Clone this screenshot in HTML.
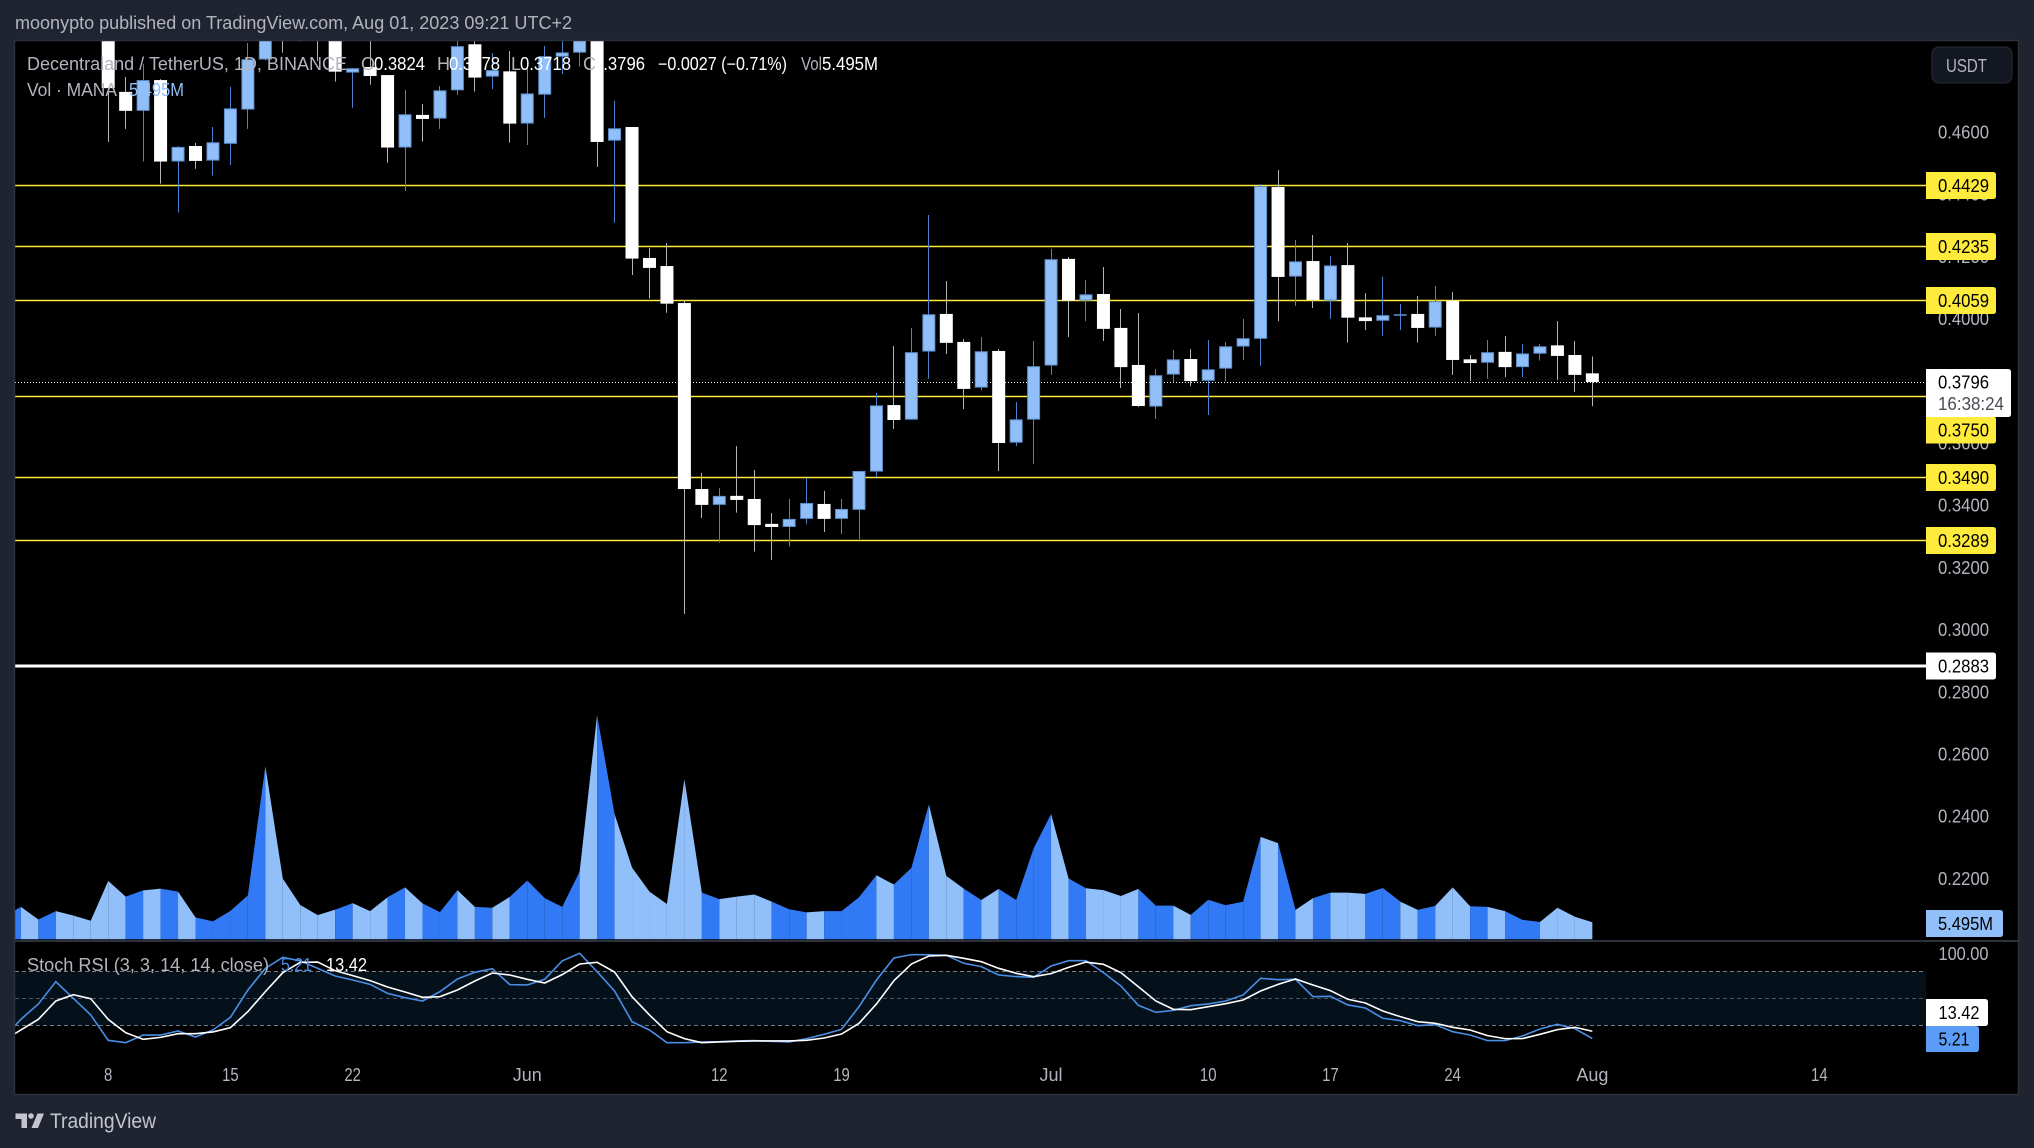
<!DOCTYPE html>
<html lang="en">
<head>
<meta charset="utf-8">
<title>MANA/USDT chart</title>
<style>
html,body{margin:0;padding:0;background:#1f2430;width:2034px;height:1148px;overflow:hidden}
svg{display:block}
text{font-family:"Liberation Sans",sans-serif;font-size:18px;fill:#b2b5be}
</style>
</head>
<body>
<svg id="chart" xmlns="http://www.w3.org/2000/svg" width="2034" height="1148" viewBox="0 0 2034 1148">
  <defs>
    <clipPath id="plot-clip"><rect x="15" y="41" width="1911" height="898.5"/></clipPath>
    <clipPath id="stoch-clip"><rect x="15" y="942" width="1911" height="152"/></clipPath>
  </defs>
  <rect x="0" y="0" width="2034" height="1148" fill="#1f2430"/>
  <rect x="15" y="41" width="2003.5" height="1053" fill="#000"/>
  <g id="levels-layer"></g>
  <g id="candles-layer" clip-path="url(#plot-clip)"></g>
  <g id="volume-layer" clip-path="url(#plot-clip)"></g>
  <rect id="stoch-band" x="15" width="1911" fill="#04111b"/>
  <g id="stoch-guides"></g>
  <g id="stoch-layer" clip-path="url(#stoch-clip)"></g>
  <g id="price-axis"></g>
  <g id="time-axis"></g>
  <g id="tags-layer"></g>

  <path d="M14.5 40.5H2018.5V1094.5H14.5Z" fill="none" stroke="#2d313c" stroke-width="1.5"/>
  <line x1="15" y1="941" x2="2018" y2="941" stroke="#2d313c" stroke-width="2"/>

  <text x="15" y="29" textLength="557" lengthAdjust="spacingAndGlyphs">moonypto published on TradingView.com, Aug 01, 2023 09:21 UTC+2</text>

  <g>
    <text x="27" y="70" textLength="320" lengthAdjust="spacingAndGlyphs">Decentraland / TetherUS, 1D, BINANCE</text>
    <text x="361" y="70">O</text>
    <text x="374" y="70" textLength="51" lengthAdjust="spacingAndGlyphs" style="fill:#fff">0.3824</text>
    <text x="437" y="70">H</text>
    <text x="449" y="70" textLength="51" lengthAdjust="spacingAndGlyphs" style="fill:#fff">0.3878</text>
    <text x="511" y="70">L</text>
    <text x="520" y="70" textLength="51" lengthAdjust="spacingAndGlyphs" style="fill:#fff">0.3718</text>
    <text x="583" y="70">C</text>
    <text x="594" y="70" textLength="51" lengthAdjust="spacingAndGlyphs" style="fill:#fff">0.3796</text>
    <text x="658" y="70" textLength="129" lengthAdjust="spacingAndGlyphs" style="fill:#fff">−0.0027 (−0.71%)</text>
    <text x="801" y="70" textLength="21" lengthAdjust="spacingAndGlyphs">Vol</text>
    <text x="822" y="70" textLength="56" lengthAdjust="spacingAndGlyphs" style="fill:#fff">5.495M</text>
  </g>
  <g>
    <text x="27" y="96" textLength="90" lengthAdjust="spacingAndGlyphs">Vol · MANA</text>
    <text x="129" y="96" textLength="55" lengthAdjust="spacingAndGlyphs" style="fill:#90bff9">5.495M</text>
  </g>
  <g>
    <text x="27" y="971" textLength="242" lengthAdjust="spacingAndGlyphs">Stoch RSI (3, 3, 14, 14, close)</text>
    <text x="281" y="971" textLength="31" lengthAdjust="spacingAndGlyphs" style="fill:#4a8ee6">5.21</text>
    <text x="326" y="971" textLength="41" lengthAdjust="spacingAndGlyphs" style="fill:#fff">13.42</text>
  </g>

  <g>
    <rect x="1932" y="47" width="80" height="36" rx="7" fill="#131722" stroke="#2a2e39" stroke-width="1"/>
    <text x="1946" y="72" textLength="41" lengthAdjust="spacingAndGlyphs">USDT</text>
  </g>

  <g>
    <g fill="#c3c6ce">
      <path d="M15.5 1113.5H27V1128H21.5V1119H15.5Z"/>
      <circle cx="31" cy="1116" r="2.8"/>
      <path d="M37.5 1113.5H44L38 1128H31.5Z"/>
    </g>
    <text x="50" y="1128" textLength="106" lengthAdjust="spacingAndGlyphs" style="font-size:21px;fill:#c3c6ce">TradingView</text>
  </g>
</svg>

<script>
// Bars run daily from May 2 to Aug 1, 2023 (index 0 = May 2, just left of the visible pane).
var open = [.5050,.5050,.5180,.5050,.5150,.5080,.5030,.4729,.4668,.4767,.4505,.4555,.4508,.4562,.4672,.4833,.4992,.5008,.5008,.4976,.4791,.4809,.4783,.4550,.4655,.4643,.4734,.4882,.4778,.4795,.4627,.4720,.4842,.4855,.4992,.4572,.4616,.4195,.4169,.4050,.3452,.3401,.3430,.3420,.3340,.3330,.3356,.3404,.3356,.3385,.3508,.3722,.3675,.3894,.4015,.3925,.3778,.3896,.3601,.3675,.3849,.4192,.4058,.4079,.3970,.3851,.3717,.3820,.3870,.3800,.3839,.3910,.3935,.4423,.4135,.4185,.4058,.4172,.4004,.3993,.4009,.4015,.3971,.4057,.3869,.3858,.3893,.3844,.3887,.3914,.3883,.3824];
var high = [.5150,.5250,.5220,.5200,.5180,.5120,.5050,.4777,.4819,.4770,.4555,.4565,.4616,.4745,.4886,.4992,.5010,.5020,.5030,.5000,.4805,.4912,.4783,.4735,.4690,.4748,.4912,.4912,.4854,.4860,.4815,.4877,.4912,.4990,.5020,.4700,.4616,.4227,.4243,.4058,.3504,.3455,.3590,.3513,.3375,.3420,.3488,.3446,.3420,.3510,.3761,.3912,.3970,.4333,.4121,.3934,.3941,.3902,.3732,.3928,.4224,.4198,.4124,.4166,.4031,.4018,.3838,.3899,.3902,.3931,.3925,.3999,.4433,.4478,.4253,.4269,.4201,.4243,.4082,.4134,.4047,.4073,.4105,.4086,.3883,.3931,.3944,.3918,.3918,.3992,.3928,.3878];
var low = [.4950,.4980,.5000,.5020,.5030,.4980,.4568,.4610,.4505,.4434,.4341,.4482,.4460,.4494,.4610,.4830,.4855,.4891,.4828,.4762,.4678,.4752,.4501,.4411,.4569,.4610,.4719,.4730,.4738,.4566,.4558,.4645,.4786,.4810,.4488,.4308,.4140,.4065,.4019,.3050,.3359,.3280,.3376,.3251,.3224,.3267,.3340,.3314,.3307,.3291,.3491,.3645,.3675,.3806,.3886,.3709,.3770,.3510,.3590,.3533,.3819,.3941,.3992,.3928,.3777,.3716,.3677,.3794,.3783,.3690,.3799,.3867,.3848,.3992,.4041,.4034,.3999,.3923,.3963,.3945,.3963,.3923,.3945,.3819,.3799,.3806,.3812,.3812,.3865,.3803,.3764,.3718];
var close = [.5100,.5180,.5050,.5150,.5080,.5030,.4741,.4668,.4767,.4505,.4552,.4507,.4567,.4676,.4834,.4960,.4928,.4944,.4944,.4794,.4805,.4780,.4550,.4657,.4642,.4734,.4876,.4775,.4799,.4627,.4724,.4844,.4856,.4960,.4568,.4612,.4193,.4163,.4048,.3452,.3401,.3430,.3417,.3336,.3330,.3356,.3407,.3356,.3388,.3510,.3721,.3674,.3892,.4014,.3922,.3774,.3895,.3600,.3676,.3847,.4191,.4058,.4078,.3967,.3844,.3719,.3818,.3869,.3799,.3837,.3911,.3937,.4426,.4134,.4184,.4060,.4171,.4003,.3992,.4011,.4014,.3970,.4056,.3867,.3857,.3892,.3844,.3888,.3911,.3880,.3819,.3796];
var volumeMillions = [7.2,10.5,6.4,9.1,7.7,6.0,18.9,13.8,15.8,16.4,15.4,7.1,5.8,9.2,14.2,56.0,19.6,11.1,7.8,9.6,11.7,9.1,13.6,16.8,11.6,8.8,15.9,10.5,10.2,13.7,19.0,13.3,10.5,21.9,72.5,40.5,23.2,15.4,11.4,51.8,15.1,13.0,13.8,14.5,12.2,9.7,8.7,9.1,9.1,13.6,20.7,17.7,23.1,43.6,20.5,16.4,12.7,16.3,12.7,29.4,40.5,19.7,16.5,15.9,14.0,16.3,10.9,10.9,7.9,12.8,11.0,12.2,33.1,31.1,9.5,13.3,15.1,15.1,14.7,16.6,12.2,9.5,10.8,16.8,10.7,10.5,9.1,6.3,5.6,10.2,7.3,5.495];
var stochK = [5.9,26.6,43.7,68.5,50.0,31.5,3.3,0.7,9.2,9.2,13.7,7.0,14.8,28.9,59.2,83.3,95.5,91.5,83.3,74.8,70.3,65.5,55.5,50.7,47.0,57.4,71.5,78.9,82.9,65.2,64.8,71.1,91.5,100,79.6,58.1,24.0,14.8,0.7,0.7,1.5,1.8,2.6,3.0,2.2,1.5,5.2,10,15.5,40.7,70.3,94.8,98.5,98.5,97.8,88.9,85.2,75.9,74.1,73.3,85.9,91.8,91.8,78.5,63.7,42.2,34.4,36.6,41.8,43.7,47,53.7,72.2,70.7,71.1,51.8,52.2,42.6,39.2,27.8,25.2,19.6,20.7,12.9,9.2,3,3,8.1,15.9,21.1,16.3,5.21];
var stochD = [3,14.8,26.6,47,54,49.6,26.6,11.8,4.4,6.6,10.7,10.7,12.6,17.4,35.2,57.4,78.5,90,90.3,80.7,75.2,69.6,62.6,57,51.1,51.8,59.2,69.2,78.1,75.9,71.1,67,76.3,88.1,90,79.2,51.8,31.5,12.9,5.2,0.7,1.5,2.2,2.6,2.6,2.6,3.3,5.9,10.3,22.2,43.7,69.6,88.1,97,97.8,94.4,90.7,83.3,77.8,74,77.4,84.4,90.3,87.8,78.5,62.9,47,37.8,37.4,40.7,44,48.1,58.1,65.5,71.5,64.8,58.5,48.9,44.8,35.9,29.6,24,22.2,17.8,14.8,8.5,5.2,5.2,10,15.2,17.8,13.42];
var priceTicks = [0.46,0.44,0.42,0.40,0.38,0.36,0.34,0.32,0.30,0.28,0.26,0.24,0.22];
var levelPrices = [0.4429,0.4235,0.4059,0.3750,0.3490,0.3289];
var supportPrice = 0.2883;
var lastPrice = 0.3796;
var countdownLabel = '16:38:24';
var volumeLabel = '5.495M';
var stochGuides = [80,50,20];
var stochTicks = [100];
var timeLabels = ['8','15','22','Jun','12','19','Jul','10','17','24','Aug','14'];
var timeBarIndex = [6,13,20,30,41,48,60,69,76,83,91,104];

var NS = 'http://www.w3.org/2000/svg';
var PANE_LEFT = 15, AXIS_LEFT = 1926;
function xOf(i){ return 3.44 + 17.4605 * i; }
function yPrice(p){ return 132 + (0.46 - p) * 3110; }
function yVol(v){ return 939.3 - v * 3.093; }
function yStoch(v){ return 1043.3 - 0.9 * v; }
function crisp(v){ return Math.floor(v) + 0.5; }
function snap(v){ return Math.round(v) + 0.5; }
function make(tag, parent){ var el = document.createElementNS(NS, tag); parent.appendChild(el); return el; }
function fit(el, w){ el.setAttribute('textLength', w); el.setAttribute('lengthAdjust', 'spacingAndGlyphs'); }

// horizontal levels
var levelsLayer = document.getElementById('levels-layer');
levelPrices.forEach(function(p){
  var el = make('line', levelsLayer);
  
  
  el.setAttribute('x1', PANE_LEFT); el.setAttribute('x2', AXIS_LEFT);
  el.setAttribute('y1', snap(yPrice(p))); el.setAttribute('y2', snap(yPrice(p)));
  el.setAttribute('stroke', '#ffeb3b'); el.setAttribute('stroke-width', '1.4');
});
var lastLine = make('line', levelsLayer);


lastLine.setAttribute('x1', PANE_LEFT); lastLine.setAttribute('x2', AXIS_LEFT);
lastLine.setAttribute('y1', snap(yPrice(lastPrice))); lastLine.setAttribute('y2', snap(yPrice(lastPrice)));
lastLine.setAttribute('stroke', '#fff'); lastLine.setAttribute('stroke-width', '1');
lastLine.setAttribute('stroke-dasharray', '1 2');
var supportLine = make('line', levelsLayer);


supportLine.setAttribute('x1', PANE_LEFT); supportLine.setAttribute('x2', AXIS_LEFT);
supportLine.setAttribute('y1', yPrice(supportPrice)); supportLine.setAttribute('y2', yPrice(supportPrice));
supportLine.setAttribute('stroke', '#fff'); supportLine.setAttribute('stroke-width', '3');

// candles
var candlesLayer = document.getElementById('candles-layer');
open.forEach(function(o, i){
  var up = close[i] >= o;
  var cx = xOf(i);
  var wick = make('line', candlesLayer);
  
  
  wick.setAttribute('x1', crisp(cx)); wick.setAttribute('x2', crisp(cx));
  wick.setAttribute('y1', yPrice(high[i])); wick.setAttribute('y2', yPrice(low[i]));
  wick.setAttribute('stroke', up ? '#4a82d0' : '#b4b4b4'); wick.setAttribute('stroke-width', '1');
  var top = yPrice(Math.max(o, close[i]));
  var bot = yPrice(Math.min(o, close[i]));
  var body = make('rect', candlesLayer);
  
  
  if (up) {
    body.setAttribute('x', cx - 6); body.setAttribute('width', 12);
    body.setAttribute('y', top + 0.5); body.setAttribute('height', Math.max(bot - top - 1, 0.5));
    body.setAttribute('fill', '#90bff9'); body.setAttribute('stroke', '#5f8fca'); body.setAttribute('stroke-width', '1');
  } else {
    body.setAttribute('x', cx - 6.5); body.setAttribute('width', 13);
    body.setAttribute('y', top); body.setAttribute('height', Math.max(bot - top, 1));
    body.setAttribute('fill', '#fff');
  }
});

// volume
var volumeLayer = document.getElementById('volume-layer');
var volumeBase = yVol(0);
volumeMillions.forEach(function(v, i){
  if (i === 0) return;
  var band = make('polygon', volumeLayer);
  
  
  var x0 = xOf(i - 1), x1 = xOf(i);
  band.setAttribute('points', x0 + ',' + volumeBase + ' ' + x0 + ',' + yVol(volumeMillions[i - 1]) + ' ' + x1 + ',' + yVol(v) + ' ' + x1 + ',' + volumeBase);
  band.setAttribute('fill', close[i] >= open[i] ? '#3179f5' : '#90bff9');
});

// stoch rsi
var band = document.getElementById('stoch-band');
band.setAttribute('y', yStoch(stochGuides[0]));
band.setAttribute('height', yStoch(stochGuides[2]) - yStoch(stochGuides[0]));
var guideLayer = document.getElementById('stoch-guides');
stochGuides.forEach(function(g, idx){
  var el = make('line', guideLayer);
  
  
  el.setAttribute('x1', PANE_LEFT); el.setAttribute('x2', AXIS_LEFT);
  el.setAttribute('y1', crisp(yStoch(g))); el.setAttribute('y2', crisp(yStoch(g)));
  el.setAttribute('stroke', idx === 1 ? '#50535e' : '#787b86');
  el.setAttribute('stroke-dasharray', '4 3');
});
var stochLayer = document.getElementById('stoch-layer');
var kLine = make('polyline', stochLayer);


kLine.setAttribute('points', stochK.map(function(v, i){ return xOf(i) + ',' + yStoch(v); }).join(' '));
kLine.setAttribute('fill', 'none'); kLine.setAttribute('stroke', '#4a8ee6'); kLine.setAttribute('stroke-width', '1.6');
var dLine = make('polyline', stochLayer);


dLine.setAttribute('points', stochD.map(function(v, i){ return xOf(i) + ',' + yStoch(v); }).join(' '));
dLine.setAttribute('fill', 'none'); dLine.setAttribute('stroke', '#fff'); dLine.setAttribute('stroke-width', '1.6');

// price axis
var priceAxis = document.getElementById('price-axis');
priceTicks.forEach(function(p){
  var el = make('text', priceAxis);
  
  
  el.setAttribute('x', 1938);
  el.setAttribute('y', yPrice(p) + 6.5);
  fit(el, 51);
  el.textContent = p.toFixed(4);
});
stochTicks.forEach(function(v){
  var el = make('text', priceAxis);
  
  
  el.setAttribute('x', 1938.5);
  el.setAttribute('y', yStoch(v) + 6.5);
  fit(el, 50);
  el.textContent = v.toFixed(2);
});

// time axis
var timeAxis = document.getElementById('time-axis');
timeLabels.forEach(function(lbl, k){
  var el = make('text', timeAxis);
  
  
  el.setAttribute('x', xOf(timeBarIndex[k]));
  el.setAttribute('y', 1081);
  el.setAttribute('text-anchor', 'middle');
  if (/^[0-9]+$/.test(lbl)) { fit(el, lbl.length * 8.3); }
  el.textContent = lbl;
});

// price tags
var tagsLayer = document.getElementById('tags-layer');
function tagPath(x, y, w, h){
  var r = 3;
  return 'M' + x + ' ' + y + 'H' + (x + w - r) + 'Q' + (x + w) + ' ' + y + ' ' + (x + w) + ' ' + (y + r) +
    'V' + (y + h - r) + 'Q' + (x + w) + ' ' + (y + h) + ' ' + (x + w - r) + ' ' + (y + h) + 'H' + x + 'Z';
}
var lastTagTop = yPrice(lastPrice) - 13;
var lastTagBottom = lastTagTop + 48;
levelPrices.forEach(function(p){
  var cy = snap(yPrice(p));
  if (cy - 13 < lastTagBottom && cy + 13 > lastTagTop) { cy = lastTagBottom + 13; }
  var bg = make('path', tagsLayer);
  
  
  bg.setAttribute('d', tagPath(AXIS_LEFT, cy - 13.5, 70, 27));
  bg.setAttribute('fill', '#ffeb3b');
  var tx = make('text', tagsLayer);
  
  
  tx.setAttribute('x', 1938); tx.setAttribute('y', cy + 6.5);
  tx.setAttribute('style', 'fill:#000');
  fit(tx, 51);
  tx.textContent = p.toFixed(4);
});
var supportTag = make('path', tagsLayer);


supportTag.setAttribute('d', tagPath(AXIS_LEFT, yPrice(supportPrice) - 13.5, 70, 27));
supportTag.setAttribute('fill', '#fff');
var supportText = make('text', tagsLayer);


supportText.setAttribute('x', 1938); supportText.setAttribute('y', yPrice(supportPrice) + 6.5);
supportText.setAttribute('style', 'fill:#000');
fit(supportText, 51);
supportText.textContent = supportPrice.toFixed(4);

var lastTag = make('path', tagsLayer);


lastTag.setAttribute('d', tagPath(AXIS_LEFT, lastTagTop, 85, 48));
lastTag.setAttribute('fill', '#fff');
var lastText = make('text', tagsLayer);


lastText.setAttribute('x', 1938); lastText.setAttribute('y', yPrice(lastPrice) + 6.5);
lastText.setAttribute('style', 'fill:#000');
fit(lastText, 51);
lastText.textContent = lastPrice.toFixed(4);
var countdown = make('text', tagsLayer);


countdown.setAttribute('x', 1938); countdown.setAttribute('y', yPrice(lastPrice) + 28);
fit(countdown, 66);
countdown.setAttribute('style', 'fill:#4a4d57');
countdown.textContent = countdownLabel;

var volTag = make('path', tagsLayer);


volTag.setAttribute('d', tagPath(AXIS_LEFT, 910, 77, 27));
volTag.setAttribute('fill', '#90bff9');
var volText = make('text', tagsLayer);


volText.setAttribute('x', 1938); volText.setAttribute('y', 930);
fit(volText, 55);
volText.setAttribute('style', 'fill:#000');
volText.textContent = volumeLabel;

var dTag = make('path', tagsLayer);


dTag.setAttribute('d', tagPath(AXIS_LEFT, 999, 62, 27));
dTag.setAttribute('fill', '#fff');
var dText = make('text', tagsLayer);


dText.setAttribute('x', 1938.5); dText.setAttribute('y', 1019);
fit(dText, 41);
dText.setAttribute('style', 'fill:#000');
dText.textContent = stochD[stochD.length - 1].toFixed(2);
var kTag = make('path', tagsLayer);


kTag.setAttribute('d', tagPath(AXIS_LEFT, 1026, 53, 26));
kTag.setAttribute('fill', '#5b9cf6');
var kText = make('text', tagsLayer);


kText.setAttribute('x', 1938.5); kText.setAttribute('y', 1045.5);
fit(kText, 31);
kText.setAttribute('style', 'fill:#000');
kText.textContent = stochK[stochK.length - 1].toFixed(2);
</script>
</body>
</html>
